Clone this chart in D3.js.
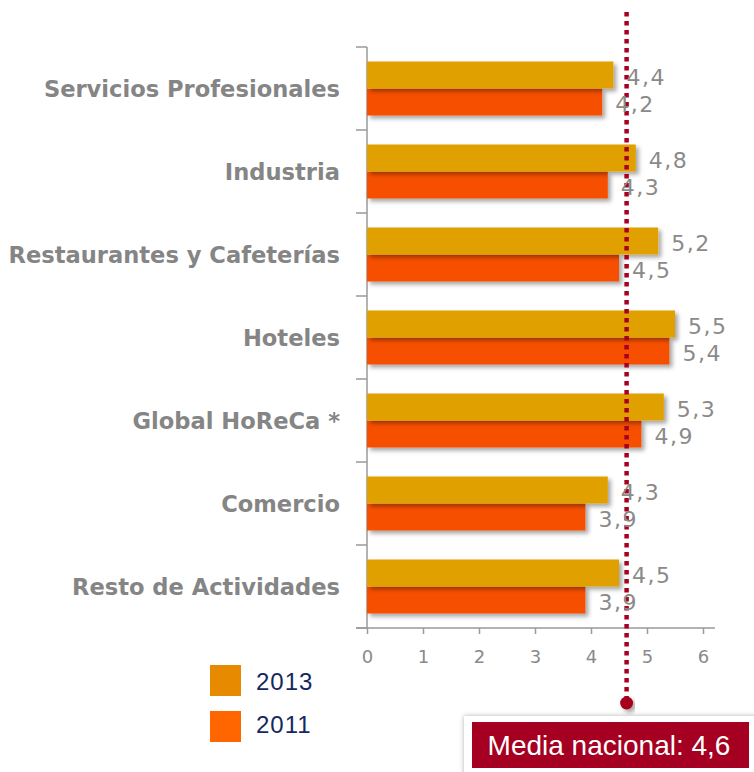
<!DOCTYPE html>
<html>
<head>
<meta charset="utf-8">
<script src="https://cdn.jsdelivr.net/npm/d3@7/dist/d3.min.js"></script>
<style>
  body { margin: 0; background: #fff; }
  svg { display: block; }
</style>
</head>
<body>
<svg id="chart"></svg>
<script>
const width = 754
const height = 772

// data
const categories = ["Servicios Profesionales", "Industria", "Restaurantes y Cafeterías", "Hoteles", "Global HoReCa *", "Comercio", "Resto de Actividades"]
const values2013 = [4.4, 4.8, 5.2, 5.5, 5.3, 4.3, 4.5]
const values2011 = [4.2, 4.3, 4.5, 5.4, 4.9, 3.9, 3.9]
const seriesNames = ["2013", "2011"]
const xTicks = [0, 1, 2, 3, 4, 5, 6]
const mediaNacional = 4.6

const svg = d3.select("#chart")
            .attr("width", width)
            .attr("height", height);

// soft shadow under the bars
const defs = svg.append("defs");
const shadow = defs.append("filter").attr("id", "shadow")
    .attr("x", "-5%").attr("y", "-20%").attr("width", "115%").attr("height", "160%");
shadow.append("feDropShadow")
    .attr("dx", 3).attr("dy", 3).attr("stdDeviation", 2)
    .attr("flood-color", "#000").attr("flood-opacity", 0.35);
const boxShadow = defs.append("filter").attr("id", "boxShadow")
    .attr("x", "-10%").attr("y", "-20%").attr("width", "120%").attr("height", "140%");
boxShadow.append("feDropShadow")
    .attr("dx", 0).attr("dy", 0).attr("stdDeviation", 2.5)
    .attr("flood-color", "#000").attr("flood-opacity", 0.3);

const x = d3.scaleLinear().domain([0, 6]).range([367, 703]);
const y = d3.scaleBand().domain(categories).range([47, 628]).paddingInner(0).paddingOuter(0);
const barH = 27;

// left axis line + category tick marks
const axisColor = "#9a9a9a";
svg.append("line")
   .attr("x1", 367).attr("x2", 367)
   .attr("y1", 47).attr("y2", 628)
   .attr("stroke", axisColor).attr("stroke-width", 1.5);

svg.selectAll(".cat-tick")
   .data(categories.map(c => y(c)).concat([628]))
   .enter()
   .append("line")
   .attr("x1", 356).attr("x2", 367)
   .attr("y1", d => d).attr("y2", d => d)
   .attr("stroke", axisColor).attr("stroke-width", 1.5);

// bottom axis
const xAxis = d3.axisBottom(x).tickValues(xTicks).tickSize(6).tickFormat(d3.format("d"));
const gx = svg.append("g").attr("transform", "translate(0,628)").call(xAxis);
gx.select(".domain").attr("d", "M356,0H715").attr("stroke", axisColor).attr("stroke-width", 1.5);
gx.selectAll(".tick line").attr("stroke", axisColor).attr("stroke-width", 1.5);
gx.selectAll(".tick text")
  .attr("fill", "#8a8a8a")
  .attr("dy", "0")
  .attr("y", 35)
  .style("font-family", "'DejaVu Sans', sans-serif")
  .style("font-size", "18px");

// category labels
svg.selectAll(".cat-label")
   .data(categories)
   .enter()
   .append("text")
   .attr("x", 340)
   .attr("y", d => y(d) + y.bandwidth() / 2 + 8)
   .attr("text-anchor", "end")
   .attr("fill", "#858585")
   .style("font-family", "'DejaVu Sans', sans-serif")
   .style("font-weight", "bold")
   .style("font-size", "22.6px")
   .text(d => d);

// bars
const colors = { "2013": "#e0a000", "2011": "#f75000" };
const rows = categories.map((c, i) => ({ cat: c, v2013: values2013[i], v2011: values2011[i] }));

rows.forEach(function(r) {
    const top = y(r.cat) + (y.bandwidth() - 2 * barH) / 2;
    svg.append("rect")
       .attr("x", x(0)).attr("y", top + barH)
       .attr("width", x(r.v2011) - x(0)).attr("height", barH)
       .attr("fill", colors["2011"]).attr("filter", "url(#shadow)");
    svg.append("rect")
       .attr("x", x(0)).attr("y", top)
       .attr("width", x(r.v2013) - x(0)).attr("height", barH)
       .attr("fill", colors["2013"]).attr("filter", "url(#shadow)");
});

// dotted media line
const mx = x(mediaNacional) + 2;
svg.append("line")
   .attr("x1", mx).attr("x2", mx)
   .attr("y1", 12).attr("y2", 700)
   .attr("stroke", "#a8001f").attr("stroke-width", 4.5)
   .attr("stroke-dasharray", "4.5,4.5");
svg.append("circle")
   .attr("cx", mx).attr("cy", 703).attr("r", 6.5)
   .attr("fill", "#a8001f").attr("filter", "url(#shadow)");

// value labels
const fmt = v => d3.format(".1f")(v).replace(".", ",");
rows.forEach(function(r) {
    const top = y(r.cat) + (y.bandwidth() - 2 * barH) / 2;
    [[r.v2013, top], [r.v2011, top + barH]].forEach(function(p) {
        svg.append("text")
           .attr("x", x(p[0]) + 13)
           .attr("y", p[1] + barH / 2 + 10)
           .attr("fill", "#8a8a8a")
           .style("font-family", "'DejaVu Sans', sans-serif")
           .style("font-size", "22px")
           .style("letter-spacing", "1.5px")
           .text(fmt(p[0]));
    });
});

// legend
const legendColors = ["#e88a00", "#ff6600"];
seriesNames.forEach(function(s, i) {
    svg.append("rect")
       .attr("x", 210).attr("y", 665 + i * 46)
       .attr("width", 31).attr("height", 31)
       .attr("fill", legendColors[i]);
    svg.append("text")
       .attr("x", 256).attr("y", 690 + i * 43)
       .attr("fill", "#14275e")
       .style("font-family", "'Liberation Sans', Arial, sans-serif")
       .style("font-size", "24px")
       .style("letter-spacing", "1px")
       .text(s);
});

// media nacional box
svg.append("rect")
   .attr("x", 464).attr("y", 716).attr("width", 295).attr("height", 62)
   .attr("fill", "#fff").attr("filter", "url(#boxShadow)");
svg.append("rect")
   .attr("x", 472).attr("y", 722).attr("width", 277).attr("height", 46)
   .attr("fill", "#a50021");
svg.append("text")
   .attr("x", 609).attr("y", 755)
   .attr("text-anchor", "middle")
   .attr("fill", "#fff")
   .style("font-family", "'Liberation Sans', Arial, sans-serif")
   .style("font-size", "28px")
   .text("Media nacional: " + fmt(mediaNacional));
</script>
</body>
</html>
